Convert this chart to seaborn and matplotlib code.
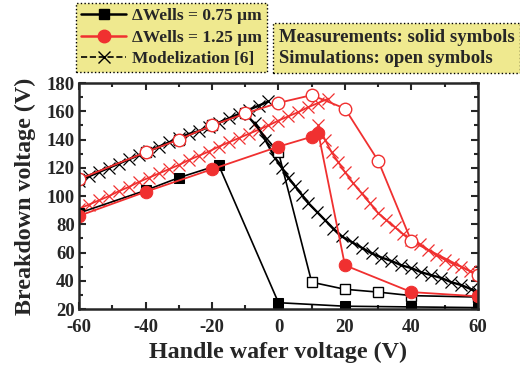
import matplotlib
matplotlib.use("Agg")
import matplotlib.pyplot as plt
from matplotlib.lines import Line2D
from matplotlib.ticker import MultipleLocator
import seaborn as sns
import pandas as pd

sns.set_style("ticks")
plt.rcParams['font.family'] = ['Liberation Serif', 'DejaVu Serif']
plt.rcParams['font.weight'] = 'bold'
plt.rcParams['axes.unicode_minus'] = False

RED = '#f03030'
YELLOW = '#efe98f'

# Measurements (solid symbols)
meas_075_x = [-60, -40, -30, -18, 0, 20, 40, 60]
meas_075_y = [88, 104, 113, 122, 24.5, 22, 21.5, 21]
meas_125_x = [-60, -40, -20, 0, 10, 12, 20, 40, 60]
meas_125_y = [86, 103, 119, 135, 142, 144.5, 51, 32, 29]

# Simulations (open symbols)
sim_075_x = [-60, -40, -30, -20, -10, 0, 10, 20, 30, 40, 60]
sim_075_y = [112, 131, 140, 150, 158.5, 131, 39, 34, 32, 29.5, 28.5]
sim_125_x = [-60, -40, -30, -20, -10, 0, 10, 20, 30, 40, 60]
sim_125_y = [112, 131, 140, 150, 158.5, 166, 171.5, 162, 125, 68, 44]

# Modelization [6]
mod_075_up_x = [-60, -57, -54, -51, -48, -45, -42, -39, -36, -33, -30, -27, -24, -21, -18, -15, -12, -9, -6, -3]
mod_075_up_y = [111, 114, 117, 120, 123, 126, 129, 132, 135, 138, 141, 144, 146, 149, 152, 155, 158, 161, 164, 167]
mod_075_dn_x = [-7, -4, -1, 1, 3, 5, 7, 9, 11.5, 14, 16.5, 19, 22, 25, 28, 31, 34, 37, 40, 43, 46, 49, 52, 55, 58, 60]
mod_075_dn_y = [152, 140, 127, 120, 113, 107, 101, 95, 89, 83, 77, 71.5, 67.5, 63.5, 59.5, 56.5, 54, 51, 49, 46, 44, 42, 39, 37, 34, 32]
mod_125_up_x = [-60, -57, -54, -51, -48, -45, -42, -39, -36, -33, -30, -27, -24, -21, -18, -15, -12, -9, -6, -3, 0, 3, 6, 9, 12, 15]
mod_125_up_y = [91, 94, 97, 100, 103.5, 106.5, 110, 113, 116, 119, 122, 125.5, 128.5, 131.5, 135, 138, 141, 144, 147, 150, 153.5, 156.5, 159.5, 163, 166, 169]
mod_125_dn_x = [12, 14, 16, 18, 20, 22.5, 25, 27.5, 30, 32.5, 35, 37.5, 40, 42.5, 45, 47.5, 50, 52.5, 55, 57.5, 60]
mod_125_dn_y = [150, 140, 131, 124, 117, 109, 102, 95, 88, 83, 78, 73, 69, 66, 62, 58, 55, 52, 50, 47, 45]

fig = plt.figure(figsize=(5.2, 3.71), dpi=100)
ax = fig.add_axes([0.152, 0.167, 0.767, 0.609])

def line(x, y, color, **kw):
    df = pd.DataFrame({'x': x, 'y': y})
    kw.setdefault('mec', color)
    sns.lineplot(data=df, x='x', y='y', ax=ax, sort=False, estimator=None,
                 color=color, **kw)

# models
for mx, my, c, w in [(mod_075_up_x, mod_075_up_y, 'black', 1.7), (mod_075_dn_x, mod_075_dn_y, 'black', 1.7),
                     (mod_125_up_x, mod_125_up_y, RED, 1.3), (mod_125_dn_x, mod_125_dn_y, RED, 1.3)]:
    line(mx, my, c, linewidth=w, marker='x', markersize=9, mew=0.9)

# simulations
line(sim_075_x, sim_075_y, 'black', linewidth=1.2, marker='s', markersize=7, mfc='white', mew=1.0)
line(sim_125_x, sim_125_y, RED, linewidth=1.3, marker='o', markersize=9, mfc='white', mew=1.0)

# measurements
line(meas_075_x, meas_075_y, 'black', linewidth=1.2, marker='s', markersize=7, mfc='black')
line(meas_125_x, meas_125_y, RED, linewidth=1.3, marker='o', markersize=9, mfc=RED)

ax.set_xlim(-60, 60)
ax.set_ylim(20, 180)
ax.xaxis.set_major_locator(MultipleLocator(20))
ax.xaxis.set_minor_locator(MultipleLocator(10))
ax.yaxis.set_major_locator(MultipleLocator(20))
ax.yaxis.set_minor_locator(MultipleLocator(10))
ax.tick_params(which='both', top=True, right=True, direction='in', width=1.5)
ax.tick_params(which='major', length=5, labelsize=13.5)
ax.tick_params(axis='x', pad=7)
ax.tick_params(axis='y', pad=3)
ax.tick_params(which='minor', length=3)
for lab in ax.get_xticklabels() + ax.get_yticklabels():
    lab.set_fontweight('bold')
for s in ax.spines.values():
    s.set_linewidth(1.8)
    s.set_visible(True)
ax.set_xlabel('Handle wafer voltage (V)', fontsize=17.3, fontweight='bold', labelpad=4)
ax.set_ylabel('Breakdown voltage (V)', fontsize=17.3, fontweight='bold', labelpad=8)

handles = [
    Line2D([], [], color='black', lw=1.8, marker='s', ms=7, mfc='black'),
    Line2D([], [], color=RED, lw=1.8, marker='o', ms=9, mfc=RED),
    Line2D([], [], color='black', lw=1.2, ls='--', marker='x', ms=9, mew=1.0),
]
labels = ['ΔWells = 0.75 µm', 'ΔWells = 1.25 µm', 'Modelization [6]']
leg = fig.legend(handles, labels, loc='upper left', bbox_to_anchor=(76/520, 1 - 3/371),
                 prop={'weight': 'bold', 'size': 12.5}, frameon=True, fancybox=False,
                 borderpad=0.3, labelspacing=0.3, handlelength=2.6, handletextpad=0.3,
                 borderaxespad=0)
fr = leg.get_frame()
fr.set_facecolor(YELLOW)
fr.set_edgecolor('black')
fr.set_linestyle(':')
fr.set_linewidth(1.0)
fr.set_alpha(1)

fig.text(279/520, 1 - 48/371, 'Measurements: solid symbols\nSimulations: open symbols',
         fontsize=13.5, fontweight='bold', va='center', ha='left', linespacing=1.3,
         bbox=dict(boxstyle='square,pad=0.3', fc=YELLOW, ec='black', ls=':', lw=1.0))

fig.savefig('out.png', dpi=100)
